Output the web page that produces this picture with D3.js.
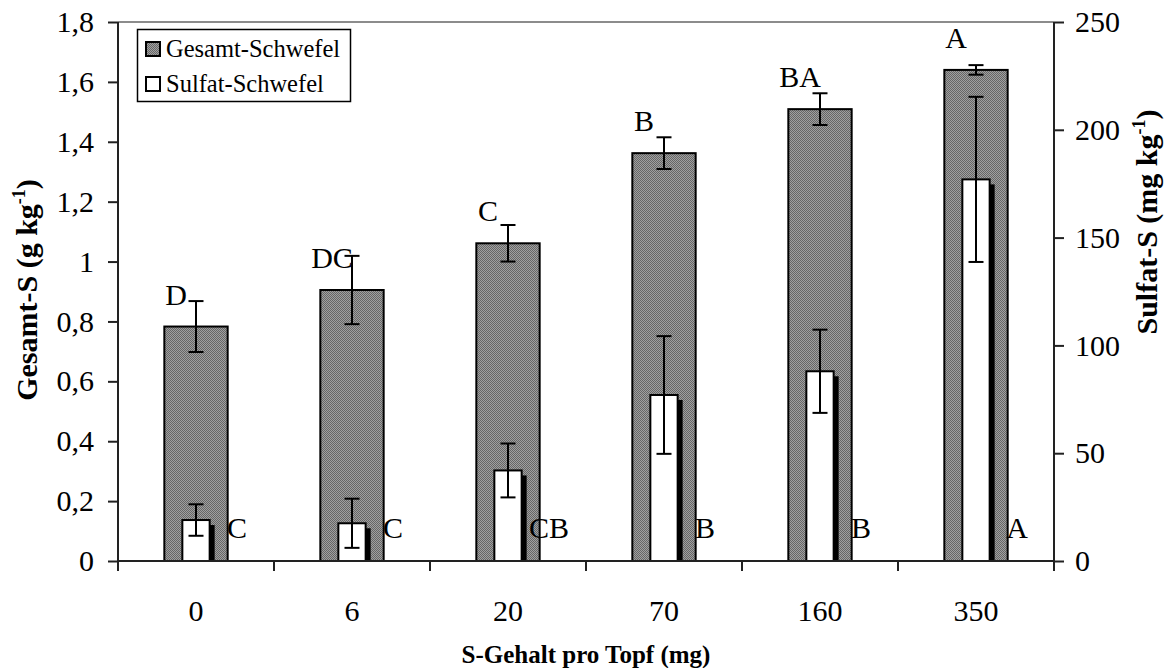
<!DOCTYPE html>
<html><head><meta charset="utf-8">
<script src="https://cdn.jsdelivr.net/npm/d3@7/dist/d3.min.js"></script>
<style>
body{margin:0;background:#fff}
svg{display:block}
text{font-family:"Liberation Serif","Times New Roman",serif;fill:#000}
</style>
</head><body>
<svg id="c" width="1176" height="668" font-family="Liberation Serif"></svg>
<script>
// ---- data ----
const categories = ["0", "6", "20", "70", "160", "350"];
const gesamt = [0.783, 0.905, 1.061, 1.362, 1.509, 1.640];
const gesamtErr = [0.085, 0.114, 0.061, 0.053, 0.053, 0.016];
const sulfat = [19.0, 17.5, 42.0, 77.0, 88.0, 177.0];
const sulfatErr = [7.3, 11.4, 12.5, 27.3, 19.3, 38.3];
const gesamtLetters = ["D", "DC", "C", "B", "BA", "A"];
const sulfatLetters = ["C", "C", "CB", "B", "B", "A"];
const leftTicks = [0, 0.2, 0.4, 0.6, 0.8, 1.0, 1.2, 1.4, 1.6, 1.8];
const rightTicks = [0, 50, 100, 150, 200, 250];
const seriesNames = ["Gesamt-Schwefel", "Sulfat-Schwefel"];
const xTitle = "S-Gehalt pro Topf (mg)";

// ---- layout ----
const L = 118, R = 1054, T = 22, B = 561;
const svg = d3.select("#c");

const x = d3.scaleBand().domain(categories).range([L, R]);
const yL = d3.scaleLinear().domain([0, 1.8]).range([B, T]);
const yR = d3.scaleLinear().domain([0, 250]).range([B, T]);
const step = x.step();
const cx = c => x(c) + x.bandwidth() / 2;
const gW = step * 0.406, sW = step * 0.175;

// pattern for gesamt bars
const defs = svg.append("defs");
const pat = defs.append("pattern").attr("id", "dots").attr("patternUnits", "userSpaceOnUse")
  .attr("width", 2).attr("height", 2);
pat.append("rect").attr("width", 2).attr("height", 2).attr("fill", "#a0a0a0");
pat.append("rect").attr("width", 1).attr("height", 1).attr("fill", "#666");
pat.append("rect").attr("x", 1).attr("y", 1).attr("width", 1).attr("height", 1).attr("fill", "#666");

const fmt = d => String(+d.toFixed(1)).replace(".", ",");

// top border line
svg.append("line").attr("x1", L).attr("x2", R).attr("y1", T).attr("y2", T)
  .attr("stroke", "#8c8c8c").attr("stroke-width", 2);

const data = categories.map((c, i) => ({c, g: gesamt[i], ge: gesamtErr[i], s: sulfat[i], se: sulfatErr[i], gl: gesamtLetters[i], sl: sulfatLetters[i]}));

// gesamt bars
svg.append("g").selectAll("rect").data(data).join("rect")
  .attr("x", d => cx(d.c) - gW / 2).attr("y", d => yL(d.g))
  .attr("width", gW).attr("height", d => B - yL(d.g))
  .attr("fill", "url(#dots)").attr("stroke", "#000").attr("stroke-width", 2);

// gesamt error bars
const cap = 15;
const ge = svg.append("g").attr("stroke", "#000").attr("stroke-width", 2);
data.forEach(d => {
  const X = cx(d.c), y1 = yL(d.g + d.ge), y2 = yL(d.g - d.ge);
  ge.append("line").attr("x1", X).attr("x2", X).attr("y1", y1).attr("y2", y2);
  ge.append("line").attr("x1", X - cap / 2).attr("x2", X + cap / 2).attr("y1", y1).attr("y2", y1);
  ge.append("line").attr("x1", X - cap / 2).attr("x2", X + cap / 2).attr("y1", y2).attr("y2", y2);
});

// sulfat shadows & bars
svg.append("g").selectAll("rect").data(data).join("rect")
  .attr("x", d => cx(d.c) - sW / 2 + 5).attr("y", d => yR(d.s) + 5)
  .attr("width", sW).attr("height", d => B - yR(d.s) - 5)
  .attr("fill", "#000");
svg.append("g").selectAll("rect").data(data).join("rect")
  .attr("x", d => cx(d.c) - sW / 2).attr("y", d => yR(d.s))
  .attr("width", sW).attr("height", d => B - yR(d.s))
  .attr("fill", "#fff").attr("stroke", "#000").attr("stroke-width", 2);

// sulfat error bars
const se = svg.append("g").attr("stroke", "#000").attr("stroke-width", 2);
data.forEach(d => {
  const X = cx(d.c), y1 = yR(d.s + d.se), y2 = yR(d.s - d.se);
  se.append("line").attr("x1", X).attr("x2", X).attr("y1", y1).attr("y2", y2);
  se.append("line").attr("x1", X - cap / 2).attr("x2", X + cap / 2).attr("y1", y1).attr("y2", y1);
  se.append("line").attr("x1", X - cap / 2).attr("x2", X + cap / 2).attr("y1", y2).attr("y2", y2);
});

// letters
svg.append("g").selectAll("text").data(data).join("text")
  .attr("x", d => cx(d.c) - 20).attr("y", d => yL(d.g) - 22)
  .attr("text-anchor", "middle").attr("font-size", 30).text(d => d.gl);
svg.append("g").selectAll("text").data(data).join("text")
  .attr("x", d => cx(d.c) + 41).attr("y", 538)
  .attr("text-anchor", "middle").attr("font-size", 30).text(d => d.sl);

// axes
const axL = svg.append("g").attr("transform", `translate(${L},0)`)
  .call(d3.axisLeft(yL).tickValues(leftTicks).tickFormat(fmt).tickSize(10).tickSizeOuter(0).tickPadding(14));
const axR = svg.append("g").attr("transform", `translate(${R},0)`)
  .call(d3.axisRight(yR).tickValues(rightTicks).tickSize(10).tickSizeOuter(0).tickPadding(11));
[axL, axR].forEach(a => {
  a.attr("font-family", "Liberation Serif");
  a.selectAll("text").attr("font-size", 30);
  a.selectAll("line,path").attr("stroke", "#222").attr("stroke-width", 2);
});
axL.select(".domain").attr("d", `M0,${T}V${B}`);
axR.select(".domain").attr("d", `M0,${T}V${B}`);

// x axis
const axB = svg.append("g").attr("transform", `translate(0,${B})`)
  .call(d3.axisBottom(x).tickSize(0).tickPadding(39));
axB.attr("font-family", "Liberation Serif");
axB.selectAll("text").attr("font-size", 30);
axB.select(".domain").attr("d", `M${L},0H${R}`).attr("stroke", "#222").attr("stroke-width", 2);
svg.append("g").selectAll("line").data(d3.range(categories.length + 1)).join("line")
  .attr("x1", i => L + i * step).attr("x2", i => L + i * step)
  .attr("y1", B).attr("y2", B + 10).attr("stroke", "#222").attr("stroke-width", 2);

// axis titles
svg.append("text").attr("x", (L + R) / 2).attr("y", 663).attr("text-anchor", "middle")
  .attr("font-size", 25).attr("font-weight", "bold").text(xTitle);

const lt = svg.append("text").attr("transform", "translate(37,290) rotate(-90)")
  .attr("text-anchor", "middle").attr("font-size", 30).attr("font-weight", "bold");
lt.append("tspan").text("Gesamt-S (g kg");
lt.append("tspan").attr("font-size", 18).attr("dy", -12).text("-1");
lt.append("tspan").attr("dy", 12).text(")");

const rt = svg.append("text").attr("transform", "translate(1157,222) rotate(-90)")
  .attr("text-anchor", "middle").attr("font-size", 30).attr("font-weight", "bold");
rt.append("tspan").text("Sulfat-S (mg kg");
rt.append("tspan").attr("font-size", 18).attr("dy", -12).text("-1");
rt.append("tspan").attr("dy", 12).text(")");

// legend
const lg = svg.append("g");
lg.append("rect").attr("x", 137.5).attr("y", 29.5).attr("width", 213).attr("height", 72)
  .attr("fill", "#fff").attr("stroke", "#000").attr("stroke-width", 1.5);
seriesNames.forEach((n, i) => {
  const yy = 42 + i * 35;
  lg.append("rect").attr("x", 146).attr("y", yy).attr("width", 14).attr("height", 14)
    .attr("fill", i === 0 ? "url(#dots)" : "#fff").attr("stroke", "#000").attr("stroke-width", 2);
  lg.append("text").attr("x", 166).attr("y", yy + 15).attr("font-size", 24.5).text(n);
});
</script>
</body></html>
